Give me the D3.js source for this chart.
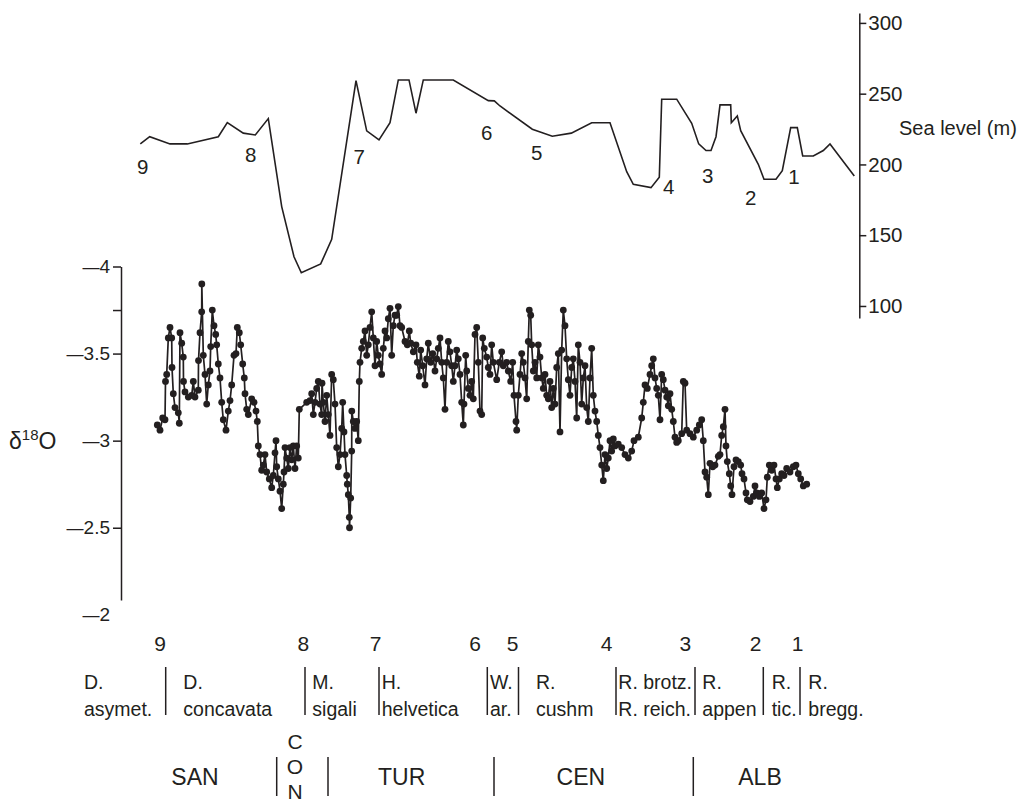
<!DOCTYPE html>
<html><head><meta charset="utf-8">
<script src="https://cdn.jsdelivr.net/npm/d3@7/dist/d3.min.js"></script>
<style>
html,body{margin:0;padding:0;background:#fff;}
svg text{font-family:"Liberation Sans",Arial,Helvetica,sans-serif;fill:#231f20;}
</style></head>
<body>
<svg id="chart" width="1020" height="808"></svg>
<script>
// ---- data (position along section, value) ----
const seaLevel = [[20.3,214.5],[29.7,219.6],[50,214.5],[67.3,214.5],[98.3,219.6],[107.3,229.5],[123.3,222.1],[135.3,220.8],[148.3,232.4],[161.7,170.2],[174,134.8],[181.3,123.5],[200.7,129.7],[211.7,147.1],[236,259.2],[246.7,223.7],[259,217.3],[270,229.5],[278.3,259.7],[289,259.7],[296,236.2],[303.3,259.7],[333.3,259.7],[368.3,245.1],[374.3,244.9],[380,241.3],[412.3,224.9],[432.3,219.9],[451.3,222.1],[471.7,229.5],[490,229.5],[506.7,194.9],[513.3,186],[531,183.6],[539.3,191],[541.7,246.1],[556.7,246.1],[571.7,229.1],[578.7,214.5],[586,209.8],[591,209.8],[596,219.6],[600,242.1],[610.7,242.1],[611.3,229.5],[617.3,234.3],[620.7,223.9],[638.3,200.1],[644,189.5],[656,189.5],[662.3,195.6],[670.7,226],[677.3,226],[682.7,206],[693.3,206],[703.3,209.8],[710,214.5],[734.3,191.9]];

const seaMarkers = [["9",22.7,198.4],["8",130.7,206.7],["7",239.3,205.5],["6",366.7,222.5],["5",416.7,208.6],["4",548.7,184.3],["3",587.7,191.9],["2",630.7,176.5],["1",674,191.4]];

const seaTicks = [100,150,200,250,300];
const isoTicks = [-4,-3.75,-3.5,-3,-2.5,-2];

const iso = [[37.3,-3.09],[40,-3.06],[42.7,-3.13],[45,-3.12],[45.5,-3.34],[46.7,-3.38],[48.3,-3.59],[50,-3.65],[51.7,-3.59],[52,-3.42],[53.3,-3.27],[55,-3.19],[58.3,-3.16],[59.3,-3.10],[60,-3.62],[61.7,-3.56],[63.3,-3.48],[63.5,-3.34],[65,-3.28],[68.3,-3.25],[71.7,-3.26],[73.3,-3.34],[75,-3.25],[78.3,-3.29],[78.5,-3.46],[80,-3.62],[81.7,-3.74],[81.8,-3.90],[83.3,-3.49],[85,-3.38],[86.7,-3.21],[88.3,-3.32],[90,-3.40],[90.7,-3.54],[92.3,-3.75],[94,-3.66],[95.7,-3.61],[96.7,-3.55],[98.3,-3.44],[100,-3.36],[101.7,-3.22],[103.3,-3.12],[106,-3.06],[108.3,-3.17],[110,-3.23],[111.7,-3.32],[114,-3.49],[116,-3.50],[117.3,-3.65],[119.3,-3.62],[120.7,-3.55],[122.7,-3.44],[124.3,-3.36],[125,-3.27],[126.7,-3.18],[128.3,-3.15],[131.7,-3.24],[134,-3.22],[136,-3.17],[137.3,-3.11],[138.3,-2.97],[140,-2.92],[141.7,-2.83],[143.3,-2.86],[145,-2.92],[146.7,-2.82],[149.3,-2.78],[151.7,-2.73],[153.3,-2.80],[155,-2.93],[156,-3.00],[156.7,-2.85],[158.3,-2.78],[160,-2.71],[161.7,-2.61],[163.3,-2.75],[164,-2.82],[165,-2.96],[166.7,-2.90],[168.3,-2.84],[170,-2.96],[171.7,-2.89],[173.3,-2.97],[175,-2.84],[176.7,-2.97],[178.3,-2.90],[179.3,-3.18],[186.7,-3.22],[190,-3.23],[191.7,-3.27],[193.3,-3.15],[195,-3.22],[196.7,-3.30],[198.3,-3.34],[200,-3.21],[201.7,-3.15],[202,-3.33],[203.3,-3.22],[205,-3.11],[206.7,-3.26],[208.3,-3.15],[210,-3.03],[211.7,-3.38],[213.3,-3.35],[215,-3.21],[216.7,-2.96],[218.3,-2.85],[220,-2.92],[221.7,-3.07],[222.7,-3.22],[224,-3.05],[225,-2.92],[226.7,-2.80],[227.3,-2.75],[228.3,-2.69],[229.3,-2.56],[229.5,-2.50],[230.7,-2.67],[231.7,-2.94],[231.8,-3.17],[233.3,-3.11],[235,-3.07],[236.7,-3.11],[238.3,-3.00],[239.3,-3.34],[240,-3.45],[241.7,-3.53],[243.3,-3.57],[245,-3.63],[246.7,-3.49],[248.3,-3.55],[250,-3.65],[251.7,-3.74],[253.3,-3.59],[255,-3.43],[256.7,-3.57],[258.3,-3.49],[260,-3.44],[261.7,-3.38],[263.3,-3.53],[265,-3.63],[266.7,-3.59],[268.3,-3.70],[270,-3.76],[271.7,-3.49],[273.3,-3.66],[275,-3.72],[276.7,-3.72],[278.3,-3.77],[280,-3.66],[281.7,-3.65],[285,-3.57],[287.3,-3.55],[289.3,-3.63],[290.7,-3.56],[293.3,-3.51],[296,-3.55],[297.3,-3.45],[299.3,-3.37],[300.7,-3.52],[302.7,-3.43],[305,-3.32],[306.7,-3.47],[308.3,-3.56],[310.7,-3.45],[312.7,-3.50],[315,-3.40],[316.7,-3.47],[318.3,-3.53],[320,-3.59],[321.7,-3.45],[323.3,-3.36],[325,-3.18],[326.7,-3.45],[328.3,-3.57],[330,-3.51],[331.7,-3.43],[333.3,-3.34],[335,-3.43],[336.7,-3.52],[338.3,-3.47],[340,-3.38],[341.7,-3.22],[343.3,-3.09],[344,-3.21],[345.7,-3.49],[346.7,-3.40],[348.3,-3.30],[350,-3.26],[351.7,-3.34],[353.3,-3.24],[355,-3.61],[356.7,-3.65],[358.3,-3.45],[360,-3.17],[361.7,-3.15],[362.7,-3.59],[364.3,-3.53],[366.7,-3.48],[368.3,-3.42],[370,-3.38],[371.7,-3.55],[373.3,-3.45],[376.7,-3.35],[379.3,-3.45],[381.7,-3.51],[383.3,-3.43],[386.7,-3.45],[388.3,-3.40],[390.7,-3.34],[392.7,-3.45],[394,-3.26],[396,-3.11],[396.7,-3.06],[398.3,-3.26],[400,-3.38],[401.7,-3.50],[403.3,-3.45],[405,-3.36],[406.7,-3.24],[408.3,-3.57],[409.3,-3.75],[410.7,-3.72],[411.7,-3.55],[413.3,-3.40],[415,-3.45],[416.7,-3.36],[418.3,-3.55],[420,-3.48],[421.7,-3.36],[423.3,-3.30],[425,-3.38],[426.7,-3.26],[428.3,-3.24],[430,-3.34],[431.7,-3.19],[433.3,-3.30],[435,-3.21],[436.7,-3.42],[438.3,-3.50],[440,-3.05],[441.7,-3.52],[443.3,-3.75],[445,-3.66],[446.7,-3.47],[448.3,-3.35],[450,-3.26],[451.7,-3.42],[453.3,-3.47],[455,-3.34],[456.7,-3.13],[458.3,-3.55],[460,-3.45],[461.7,-3.21],[463.3,-3.36],[465,-3.43],[466.7,-3.19],[468.3,-3.11],[470,-3.36],[471.7,-3.53],[473.3,-3.26],[475,-3.17],[476.7,-3.11],[478.3,-3.03],[480,-2.96],[481.7,-2.86],[483.3,-2.77],[485,-2.92],[486.7,-2.84],[488.3,-2.90],[490,-3.00],[491.7,-2.94],[493.3,-3.01],[495,-2.97],[498.3,-2.98],[501.7,-2.96],[505,-2.92],[508.3,-2.90],[511.7,-2.94],[514,-3.00],[518.3,-3.02],[521.7,-3.13],[523.3,-3.22],[525,-3.32],[527.3,-3.30],[530,-3.38],[531.7,-3.43],[533.3,-3.47],[535,-3.36],[536.7,-3.30],[538.3,-3.26],[540,-3.12],[541.7,-3.38],[543.3,-3.35],[545,-3.29],[546.7,-3.25],[548.3,-3.20],[550,-3.27],[551.7,-3.18],[553.3,-3.11],[555,-3.02],[556.7,-2.99],[558.3,-3.00],[561.7,-3.04],[563.3,-3.34],[565,-3.33],[566.7,-3.06],[570,-3.04],[573.3,-3.02],[576.7,-3.06],[579.3,-3.09],[581.7,-3.12],[583.3,-3.00],[585,-2.82],[586.7,-2.79],[588.3,-2.69],[590,-2.87],[592.7,-2.85],[595,-2.86],[598.3,-2.91],[600,-2.92],[601.7,-3.03],[603.3,-3.08],[605,-3.18],[606,-2.97],[607.3,-2.88],[609.3,-2.81],[610.7,-2.74],[612,-2.69],[614,-2.85],[616,-2.89],[618.3,-2.88],[620.7,-2.86],[622,-2.81],[624,-2.78],[626,-2.70],[627.3,-2.66],[630,-2.65],[633.3,-2.68],[635,-2.74],[636.7,-2.70],[639.3,-2.68],[641.7,-2.70],[644,-2.61],[646,-2.66],[647.3,-2.79],[649.3,-2.86],[651.7,-2.83],[654,-2.86],[656,-2.78],[657.3,-2.73],[659.3,-2.78],[661.7,-2.81],[664,-2.80],[666.7,-2.84],[670,-2.82],[673.3,-2.85],[676,-2.86],[678.3,-2.81],[680.7,-2.78],[683.3,-2.74],[686.7,-2.75]];

// bottom event numbers along the section
const eventNums = [["9",40],["8",183.3],["7",255.7],["6",355],["5",392.5],["4",486.7],["3",565.3],["2",635.7],["1",677.7]];

// biozones: boundaries and labels
const zoneBounds = [45.7,185,259,367.3,398.5,496,575,643.3,680];
const zoneLabels = [["D.","asymet.",-36],["D.","concavata",63.3],["M.","sigali",192.3],["H.","helvetica",261.7],["W.","ar.",370],["R.","cushm",416],["R. brotz.","R. reich.",498.3],["R.","appen",582.3],["R.","tic.",651.7],["R.","bregg.",688.3]];

// stages
const stageBounds = [156.7,208,374,573.3];
const stageLabels = [["SAN",75],["TUR",281.7],["CEN",460.8],["ALB",640]];
const conLetters = ["C","O","N"];

// ---- drawing ----
const ink = "#231f20";
const svg = d3.select("#chart");
const x = d3.scaleLinear().domain([0,740]).range([120,860]);
const ySea = d3.scaleLinear().domain([91.5,307]).range([318,13]);
const yIso = d3.scaleLinear().domain([-4,-2.085]).range([266.5,600]);

// Sea level axis (right)
const seaAxis = svg.append("g").attr("transform","translate(859.3,0)")
  .call(d3.axisRight(ySea).tickValues(seaTicks).tickSize(7).tickPadding(2).tickSizeOuter(0));
seaAxis.selectAll("path,line").attr("stroke",ink).attr("stroke-width",1.5);
seaAxis.selectAll("text").attr("font-size",20.5).attr("fill",ink)
  .style("font-family","'Liberation Sans',Arial,sans-serif");
svg.append("text").attr("x",899).attr("y",135).attr("font-size",20).text("Sea level (m)");

// Sea level curve
svg.append("path").datum(seaLevel)
  .attr("d", d3.line().x(d=>x(d[0])).y(d=>ySea(d[1])))
  .attr("fill","none").attr("stroke",ink).attr("stroke-width",1.6).attr("stroke-linejoin","miter");

svg.selectAll("text.sm").data(seaMarkers).enter().append("text")
  .attr("class","sm").attr("x",d=>x(d[1])).attr("y",d=>ySea(d[2]))
  .attr("dy","0.36em").attr("text-anchor","middle").attr("font-size",20.5).text(d=>d[0]);

// d18O axis (left)
const isoAxis = svg.append("g").attr("transform","translate(121,0)")
  .call(d3.axisLeft(yIso).tickValues(isoTicks).tickSize(8).tickPadding(3).tickSizeOuter(0)
    .tickFormat(d => d===-3.75 ? "" : String(Math.abs(d))));
isoAxis.selectAll("path,line").attr("stroke",ink).attr("stroke-width",1.5);
isoAxis.selectAll(".tick").filter(d=>d===-2).select("line").remove();
isoAxis.selectAll("text").attr("font-size",19).attr("fill",ink)
  .style("font-family","'Liberation Sans',Arial,sans-serif")
  .each(function(d){
    if (d===-3.75) return;
    const t = d3.select(this), s = t.text();
    t.text("");
    t.append("tspan").attr("font-size",17).text("\u2014");
    t.append("tspan").text(s);
  });

const lab = svg.append("text").attr("x",9).attr("y",449).attr("font-size",23);
lab.append("tspan").text("\u03b4");
lab.append("tspan").attr("dy",-9).attr("font-size",15).text("18");
lab.append("tspan").attr("dy",9).text("O");

// d18O series
svg.append("path").datum(iso)
  .attr("d", d3.line().x(d=>x(d[0])).y(d=>yIso(d[1])))
  .attr("fill","none").attr("stroke",ink).attr("stroke-width",1.7);
svg.append("g").selectAll("circle").data(iso).enter().append("circle")
  .attr("cx",d=>x(d[0])).attr("cy",d=>yIso(d[1])).attr("r",3.4).attr("fill",ink);

// event numbers row
svg.selectAll("text.en").data(eventNums).enter().append("text")
  .attr("class","en").attr("x",d=>x(d[1])).attr("y",651)
  .attr("text-anchor","middle").attr("font-size",21).text(d=>d[0]);

// biozone row
svg.append("g").selectAll("line").data(zoneBounds).enter().append("line")
  .attr("x1",d=>x(d)).attr("x2",d=>x(d)).attr("y1",667).attr("y2",715)
  .attr("stroke",ink).attr("stroke-width",1.5);
const zl = svg.append("g").selectAll("g").data(zoneLabels).enter().append("g");
zl.append("text").attr("x",d=>x(d[2])).attr("y",689).attr("font-size",19.5).text(d=>d[0]);
zl.append("text").attr("x",d=>x(d[2])).attr("y",716).attr("font-size",19.5).text(d=>d[1]);

// stage row
svg.append("g").selectAll("line").data(stageBounds).enter().append("line")
  .attr("x1",d=>x(d)).attr("x2",d=>x(d)).attr("y1",757).attr("y2",796)
  .attr("stroke",ink).attr("stroke-width",1.5);
svg.selectAll("text.st").data(stageLabels).enter().append("text")
  .attr("class","st").attr("x",d=>x(d[1])).attr("y",785)
  .attr("text-anchor","middle").attr("font-size",23).text(d=>d[0]);
svg.selectAll("text.con").data(conLetters).enter().append("text")
  .attr("class","con").attr("x",x(175)).attr("y",(d,i)=>749+i*25)
  .attr("text-anchor","middle").attr("font-size",21).text(d=>d);
</script>
</body></html>
